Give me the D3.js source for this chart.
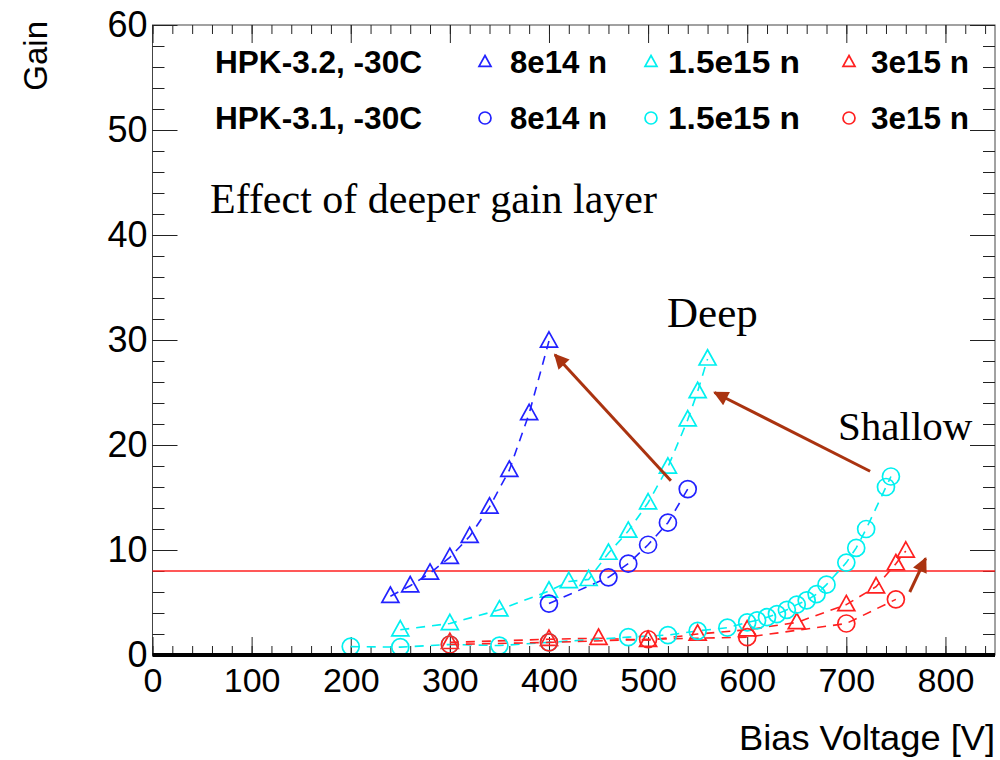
<!DOCTYPE html>
<html><head><meta charset="utf-8">
<script src="https://cdn.jsdelivr.net/npm/d3@7"></script>
<style>
body{margin:0;background:#fff;}
svg{display:block;}
</style></head>
<body>
<svg id="c" width="1000" height="760"></svg>
<script>
// ---- data ----
const v32_8e14  = [240,260,280,300,320,340,360,380,400];
const g32_8e14  = [5.6,6.6,7.8,9.3,11.3,14.1,17.6,23.0,29.9];
const v31_8e14  = [400,460,480,500,520,540];
const g31_8e14  = [4.9,7.4,8.7,10.5,12.6,15.8];
const v32_15e15 = [250,300,350,400,420,440,460,480,500,520,540,550,560];
const g32_15e15 = [2.4,3.0,4.3,6.1,7.0,7.2,9.7,11.8,14.5,17.9,22.4,25.1,28.2];
const v31_15e15 = [200,250,300,350,400,480,520,550,580,600,610,620,630,640,650,660,670,680,700,710,720,740,745];
const g31_15e15 = [0.8,0.75,1.0,0.9,1.2,1.7,1.9,2.3,2.6,3.1,3.3,3.6,3.9,4.3,4.8,5.2,5.8,6.7,8.8,10.2,12.0,16.0,17.0];
const v32_3e15  = [300,400,450,500,550,600,650,700,730,750,760];
const g32_3e15  = [1.2,1.5,1.6,1.4,2.0,2.4,3.1,4.8,6.5,8.7,9.9];
const v31_3e15  = [300,400,500,600,700,750];
const g31_3e15  = [1.0,1.2,1.5,1.7,3.0,5.3];

const xMajor = [0,100,200,300,400,500,600,700,800];
const yMajor = [0,10,20,30,40,50,60];
const threshold = 8;

const legendRows = ["HPK-3.2, -30C","HPK-3.1, -30C"];
const legendCols = ["8e14 n","1.5e15 n","3e15 n"];

// arrows: [fromV, fromG, toV, toG]
const arrowFromV = [523, 724, 764];
const arrowFromG = [16.6, 17.5, 6.0];
const arrowToV   = [406, 567, 780];
const arrowToG   = [28.6, 25.0, 9.2];

const notes = ["Effect of deeper gain layer","Deep","Shallow"];

// ---- setup ----
const svg = d3.select("#c");
const x = d3.scaleLinear().domain([0,850]).range([152.5,995]);
const y = d3.scaleLinear().domain([0,60]).range([655,25]);

const BLUE="#2222ff", CYAN="#00f0f0", RED="#ff2020", BROWN="#aa3310";

const series = [
  {v:v32_8e14, g:g32_8e14, c:BLUE, m:"tri"},
  {v:v32_15e15,g:g32_15e15,c:CYAN, m:"tri"},
  {v:v32_3e15, g:g32_3e15, c:RED,  m:"tri"},
  {v:v31_8e14, g:g31_8e14, c:BLUE, m:"cir"},
  {v:v31_15e15,g:g31_15e15,c:CYAN, m:"cir"},
  {v:v31_3e15, g:g31_3e15, c:RED,  m:"cir"},
];

// frame
svg.append("rect").attr("x",x(0)).attr("y",y(60))
  .attr("width",x(850)-x(0)).attr("height",y(0)-y(60))
  .attr("fill","none").attr("stroke","#444").attr("stroke-width",1);

function styleAxis(g){ g.select(".domain").remove(); g.selectAll("line").attr("stroke","#222"); }

// bottom axis (labels + major ticks inward)
svg.append("g").attr("transform",`translate(0,${y(0)})`)
  .call(d3.axisBottom(x).tickValues(xMajor).tickSizeInner(-18).tickSizeOuter(0).tickPadding(13).tickFormat(d3.format("d")))
  .call(styleAxis)
  .call(g=>g.selectAll("text").attr("font-family","Liberation Sans, Arial, sans-serif").attr("font-size",34).attr("fill","#000"));
svg.append("g").attr("transform",`translate(0,${y(0)})`)
  .call(d3.axisBottom(x).tickValues(d3.range(0,851,20)).tickSizeInner(-9).tickSizeOuter(0).tickFormat(""))
  .call(styleAxis);
// top axis
svg.append("g").attr("transform",`translate(0,${y(60)})`)
  .call(d3.axisTop(x).tickValues(xMajor).tickSizeInner(-18).tickSizeOuter(0).tickFormat(""))
  .call(styleAxis);
svg.append("g").attr("transform",`translate(0,${y(60)})`)
  .call(d3.axisTop(x).tickValues(d3.range(0,851,20)).tickSizeInner(-9).tickSizeOuter(0).tickFormat(""))
  .call(styleAxis);
// left axis
svg.append("g").attr("transform",`translate(${x(0)},0)`)
  .call(d3.axisLeft(y).tickValues(yMajor).tickSizeInner(-25).tickSizeOuter(0).tickPadding(5).tickFormat(d3.format("d")))
  .call(styleAxis)
  .call(g=>g.selectAll("text").attr("font-family","Liberation Sans, Arial, sans-serif").attr("font-size",36).attr("fill","#000"));
svg.append("g").attr("transform",`translate(${x(0)},0)`)
  .call(d3.axisLeft(y).tickValues(d3.range(0,61,2)).tickSizeInner(-12).tickSizeOuter(0).tickFormat(""))
  .call(styleAxis);
// right axis
svg.append("g").attr("transform",`translate(${x(850)},0)`)
  .call(d3.axisRight(y).tickValues(yMajor).tickSizeInner(-25).tickSizeOuter(0).tickFormat(""))
  .call(styleAxis);
svg.append("g").attr("transform",`translate(${x(850)},0)`)
  .call(d3.axisRight(y).tickValues(d3.range(0,61,2)).tickSizeInner(-12).tickSizeOuter(0).tickFormat(""))
  .call(styleAxis);

// axis titles
svg.append("text").attr("transform",`translate(47,${y(60)-4}) rotate(-90)`)
  .attr("text-anchor","end").attr("font-family","Liberation Sans, Arial, sans-serif")
  .attr("font-size",33).text("Gain");
svg.append("text").attr("x",x(850)).attr("y",750).attr("text-anchor","end")
  .attr("font-family","Liberation Sans, Arial, sans-serif").attr("font-size",35)
  .attr("textLength",256).attr("lengthAdjust","spacingAndGlyphs").text("Bias Voltage [V]");

// threshold line
svg.append("line").attr("x1",x(0)).attr("x2",x(850)).attr("y1",y(threshold)).attr("y2",y(threshold))
  .attr("stroke",RED).attr("stroke-width",1.4);

// series lines
const line = d3.line().x(d=>x(d[0])).y(d=>y(d[1]));
series.forEach(s=>{
  const pts = s.v.map((v,i)=>[v,s.g[i]]);
  svg.append("path").attr("d",line(pts)).attr("fill","none").attr("stroke",s.c)
    .attr("stroke-width",1.6).attr("stroke-dasharray","9,7");
});

// markers
function marker(g, type, cx, cy, size, color){
  if(type==="tri"){
    const h=size*0.9, w=size;
    g.append("path").attr("d",`M${cx},${cy-h*0.6}L${cx+w/2},${cy+h*0.4}L${cx-w/2},${cy+h*0.4}Z`)
      .attr("fill","none").attr("stroke",color).attr("stroke-width",1.7);
  } else {
    g.append("circle").attr("cx",cx).attr("cy",cy).attr("r",size/2)
      .attr("fill","none").attr("stroke",color).attr("stroke-width",1.7);
  }
}
const mg = svg.append("g");
series.forEach(s=>{
  s.v.forEach((v,i)=>marker(mg, s.m, x(v), y(s.g[i]), 17, s.c));
});

// bottom thick line
svg.append("line").attr("x1",x(0)).attr("x2",x(850)).attr("y1",y(0)).attr("y2",y(0))
  .attr("stroke","#000").attr("stroke-width",4);

// legend
const legRowY = [62,118];
const legMarkX = [485,651,849];
const legTextX = [510,668,871];
const legW = [[207,97,132,98],[207,97,132,98]];
const legColors = [BLUE,CYAN,RED];
const legTypes = ["tri","cir"];
legendRows.forEach((r,ri)=>{
  svg.append("text").attr("x",215).attr("y",legRowY[ri]).attr("dy","0.36em")
    .attr("font-family","Liberation Sans, Arial, sans-serif").attr("font-weight","bold")
    .attr("font-size",31).attr("textLength",207).attr("lengthAdjust","spacingAndGlyphs").text(r);
  legendCols.forEach((c,ci)=>{
    marker(svg, legTypes[ri], legMarkX[ci], legRowY[ri], 12, legColors[ci]);
    svg.append("text").attr("x",legTextX[ci]).attr("y",legRowY[ri]).attr("dy","0.36em")
      .attr("font-family","Liberation Sans, Arial, sans-serif").attr("font-weight","bold")
      .attr("font-size",31).attr("textLength",legW[ri][ci+1]).attr("lengthAdjust","spacingAndGlyphs").text(c);
  });
});

// annotations
const noteX = [210,667,838];
const noteY = [213,327,440];
const noteSize = [42,43,41];
notes.forEach((t,i)=>{
  svg.append("text").attr("x",noteX[i]).attr("y",noteY[i])
    .attr("font-family","Liberation Serif, Times New Roman, serif").attr("font-size",noteSize[i]).text(t);
});

// arrows
svg.append("defs").append("marker").attr("id","ah").attr("viewBox","0 0 10 10")
  .attr("refX",9).attr("refY",5).attr("markerWidth",6).attr("markerHeight",5)
  .attr("markerUnits","strokeWidth").attr("orient","auto")
  .append("path").attr("d","M0,0L10,5L0,10Z").attr("fill",BROWN);
arrowFromV.forEach((fv,i)=>{
  svg.append("line").attr("x1",x(fv)).attr("y1",y(arrowFromG[i]))
    .attr("x2",x(arrowToV[i])).attr("y2",y(arrowToG[i]))
    .attr("stroke",BROWN).attr("stroke-width",3).attr("marker-end","url(#ah)");
});
</script>
</body></html>
